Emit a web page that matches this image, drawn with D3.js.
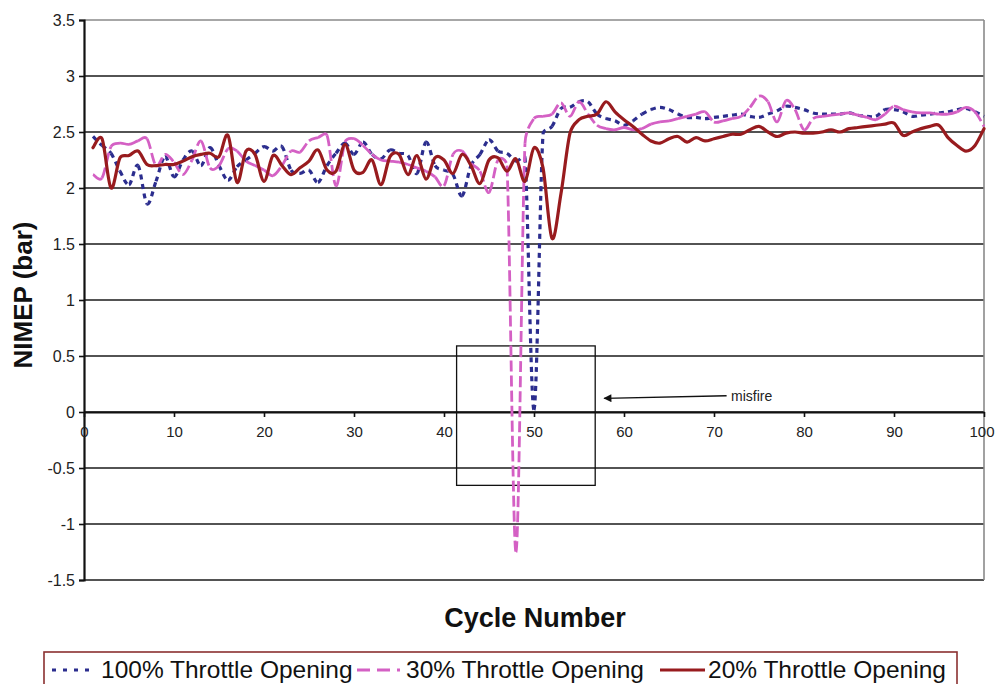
<!DOCTYPE html>
<html>
<head>
<meta charset="utf-8">
<script src="https://cdn.jsdelivr.net/npm/d3@7"></script>
<style>
  body { margin: 0; background: #fff; }
  svg { display: block; font-family: "Liberation Sans", Arial, Helvetica, sans-serif; }
</style>
</head>
<body>
<svg id="chart" width="995" height="684"></svg>
<script>
// Cycle numbers on the x axis
const cycles = d3.range(1, 101);

// NIMEP (bar) per cycle, one array per throttle opening
const throttle100 = [
  2.46, 2.38, 2.31, 2.15, 2.03, 2.20, 1.86, 2.06, 2.28, 2.10,
  2.25, 2.33, 2.20, 2.36, 2.20, 2.07, 2.19, 2.25, 2.31, 2.37,
  2.33, 2.37, 2.16, 2.13, 2.16, 2.05, 2.20, 2.31, 2.40, 2.30,
  2.41, 2.30, 2.26, 2.34, 2.31, 2.29, 2.13, 2.41, 2.20, 2.16,
  2.12, 1.93, 2.20, 2.30, 2.43, 2.33, 2.31, 2.24, 2.27, 0.02,
  2.48, 2.55, 2.71, 2.72, 2.77, 2.77, 2.66, 2.62, 2.60, 2.56,
  2.60, 2.66, 2.70, 2.72, 2.70, 2.66, 2.63, 2.63, 2.62, 2.63,
  2.64, 2.65, 2.66, 2.64, 2.63, 2.66, 2.69, 2.73, 2.72, 2.70,
  2.67, 2.66, 2.66, 2.66, 2.67, 2.65, 2.64, 2.64, 2.70, 2.70,
  2.68, 2.64, 2.65, 2.66, 2.67, 2.68, 2.70, 2.71, 2.68, 2.64
];
const throttle30 = [
  2.12, 2.09, 2.37, 2.40, 2.39, 2.42, 2.44, 2.20, 2.30, 2.23,
  2.12, 2.25, 2.42, 2.18, 2.20, 2.35, 2.33, 2.24, 2.20, 2.16,
  2.11, 2.20, 2.33, 2.32, 2.42, 2.45, 2.47, 2.02, 2.41, 2.44,
  2.38, 2.30, 2.25, 2.24, 2.23, 2.21, 2.18, 2.15, 2.10, 2.02,
  2.30, 2.33, 2.22, 2.15, 1.96, 2.25, 2.20, -1.25, 2.40, 2.62,
  2.64, 2.66, 2.76, 2.64, 2.77, 2.66, 2.56, 2.53, 2.52, 2.54,
  2.52, 2.53, 2.57, 2.59, 2.60, 2.62, 2.64, 2.66, 2.68, 2.59,
  2.60, 2.62, 2.64, 2.72, 2.82, 2.77, 2.59, 2.78, 2.70, 2.52,
  2.62, 2.64, 2.65, 2.66, 2.67, 2.65, 2.63, 2.61, 2.66, 2.73,
  2.70, 2.68, 2.67, 2.67, 2.66, 2.66, 2.68, 2.72, 2.68, 2.55
];
const throttle20 = [
  2.36, 2.44, 2.00, 2.27, 2.29, 2.33, 2.21, 2.20, 2.21, 2.21,
  2.24, 2.28, 2.30, 2.31, 2.28, 2.47, 2.05, 2.33, 2.30, 2.06,
  2.29, 2.20, 2.12, 2.18, 2.24, 2.34, 2.16, 2.15, 2.39, 2.16,
  2.14, 2.25, 2.03, 2.28, 2.30, 2.12, 2.29, 2.08, 2.27, 2.25,
  2.13, 2.30, 2.20, 2.04, 2.25, 2.27, 2.15, 2.26, 2.06, 2.36,
  2.18, 1.55, 1.95, 2.49, 2.61, 2.64, 2.66, 2.77, 2.68, 2.61,
  2.55, 2.48, 2.42, 2.40, 2.44, 2.46, 2.41, 2.45, 2.42, 2.44,
  2.46, 2.48, 2.48, 2.52, 2.55, 2.50, 2.46, 2.49, 2.50, 2.49,
  2.49, 2.50, 2.52, 2.50, 2.53, 2.54, 2.55, 2.56, 2.57, 2.58,
  2.47, 2.50, 2.53, 2.55, 2.56, 2.45, 2.38, 2.33, 2.38, 2.53
];

const seriesNames = ["100% Throttle Opening", "30% Throttle Opening", "20% Throttle Opening"];
const yTickValues = [-1.5, -1, -0.5, 0, 0.5, 1, 1.5, 2, 2.5, 3, 3.5];
const xTickValues = [0, 10, 20, 30, 40, 50, 60, 70, 80, 90, 100];

// Highlighted misfire region (cycle range, NIMEP range) and its callout
const misfireCycles = [41.4, 56.8];
const misfireNimep = [-0.655, 0.59];
const calloutText = "misfire";

// ---- layout ----
const plot = { left: 84, right: 984, top: 20, bottom: 580 };

const svg = d3.select("#chart");

const x = d3.scaleLinear().domain([0, 100]).range([plot.left, plot.right]);
const y = d3.scaleLinear().domain([-1.5, 3.5]).range([plot.bottom, plot.top]);

const styles = [
  { color: "#2B2D8E", width: 3.2, dash: "5,4.5" },
  { color: "#D460C4", width: 2.8, dash: "11,4" },
  { color: "#981B1E", width: 3.2, dash: null }
];
const seriesValues = [throttle100, throttle30, throttle20];

// Smoothed line: Catmull-Rom tangents, with each control arm limited to
// half of its own segment so short steps next to a spike do not overshoot.
function curveSmoothClamped(context) {
  return {
    areaStart() {}, areaEnd() {},
    lineStart() { this._pts = []; },
    point(px, py) { this._pts.push([+px, +py]); },
    lineEnd() {
      const p = this._pts, n = p.length;
      if (!n) return;
      context.moveTo(p[0][0], p[0][1]);
      for (let i = 0; i < n - 1; i++) {
        const p0 = p[Math.max(i - 1, 0)], p1 = p[i], p2 = p[i + 1], p3 = p[Math.min(i + 2, n - 1)];
        const cap = 0.5 * Math.hypot(p2[0] - p1[0], p2[1] - p1[1]);
        let a = [(p2[0] - p0[0]) / 6, (p2[1] - p0[1]) / 6];
        let b = [(p3[0] - p1[0]) / 6, (p3[1] - p1[1]) / 6];
        const ma = Math.hypot(a[0], a[1]), mb = Math.hypot(b[0], b[1]);
        if (ma > cap) a = [a[0] * cap / ma, a[1] * cap / ma];
        if (mb > cap) b = [b[0] * cap / mb, b[1] * cap / mb];
        context.bezierCurveTo(p1[0] + a[0], p1[1] + a[1], p2[0] - b[0], p2[1] - b[1], p2[0], p2[1]);
      }
    }
  };
}

const lineGen = d3.line()
  .x((d, i) => x(cycles[i]))
  .y(d => y(d))
  .curve(curveSmoothClamped);

// horizontal grid lines
svg.append("g")
  .selectAll("line")
  .data(yTickValues)
  .join("line")
  .attr("x1", plot.left).attr("x2", plot.right)
  .attr("y1", d => y(d)).attr("y2", d => y(d))
  .attr("stroke", d => d === 3.5 ? "#8a8a8a" : "#1a1a1a")
  .attr("stroke-width", 1.6);

// right border of the plot area
svg.append("line")
  .attr("x1", plot.right).attr("x2", plot.right)
  .attr("y1", plot.top).attr("y2", plot.bottom)
  .attr("stroke", "#8a8a8a").attr("stroke-width", 1.6);

// y axis
const yAxis = d3.axisLeft(y)
  .tickValues(yTickValues)
  .tickSize(5)
  .tickFormat(d => String(d));
const gy = svg.append("g")
  .attr("transform", `translate(${plot.left},0)`)
  .call(yAxis);
gy.select(".domain").attr("stroke", "#111").attr("stroke-width", 2.2);
gy.selectAll(".tick line").attr("stroke", "#111").attr("stroke-width", 1.6);
gy.selectAll(".tick text")
  .attr("x", -9)
  .attr("fill", "#222")
  .style("font-size", "16px")
  .style("font-family", "'Liberation Sans', Arial, sans-serif");

// x axis along NIMEP = 0
const xAxis = d3.axisBottom(x)
  .tickValues(xTickValues)
  .tickSize(5)
  .tickSizeOuter(0)
  .tickFormat(d => String(d));
const gx = svg.append("g")
  .attr("transform", `translate(0,${y(0)})`)
  .call(xAxis);
gx.select(".domain").attr("stroke", "#111").attr("stroke-width", 2);
gx.selectAll(".tick line").attr("stroke", "#111").attr("stroke-width", 1.6);
gx.selectAll(".tick text")
  .attr("y", 14)
  .attr("fill", "#222")
  .style("font-size", "15px")
  .style("font-family", "'Liberation Sans', Arial, sans-serif");
// the last label sits against the right edge of the page
gx.selectAll(".tick text")
  .filter(d => d === 100)
  .attr("text-anchor", "end")
  .attr("x", 994 - x(100));

// misfire box
svg.append("rect")
  .attr("x", x(misfireCycles[0]))
  .attr("y", y(misfireNimep[1]))
  .attr("width", x(misfireCycles[1]) - x(misfireCycles[0]))
  .attr("height", y(misfireNimep[0]) - y(misfireNimep[1]))
  .attr("fill", "none")
  .attr("stroke", "#111")
  .attr("stroke-width", 1.3);

// callout arrow
svg.append("defs").append("marker")
  .attr("id", "arrowhead")
  .attr("viewBox", "0 0 10 10")
  .attr("refX", 9).attr("refY", 5)
  .attr("markerWidth", 11).attr("markerHeight", 8)
  .attr("markerUnits", "userSpaceOnUse")
  .attr("orient", "auto")
  .append("path")
  .attr("d", "M0,0 L10,5 L0,10 Z")
  .attr("fill", "#111");

svg.append("line")
  .attr("x1", x(71.4)).attr("y1", y(0.145))
  .attr("x2", x(57.8)).attr("y2", y(0.122))
  .attr("stroke", "#111")
  .attr("stroke-width", 1.3)
  .attr("marker-end", "url(#arrowhead)");

svg.append("text")
  .attr("x", x(71.9))
  .attr("y", y(0.1))
  .attr("fill", "#222")
  .style("font-size", "14px")
  .text(calloutText);

// Dashed series: every data interval is its own path so the dash
// pattern restarts at each point.
function segmentPaths(values) {
  const segs = [];
  let cur = null;
  const ctx = {
    moveTo(px, py) { cur = [px, py]; },
    lineTo(px, py) { segs.push(`M${cur[0]},${cur[1]}L${px},${py}`); cur = [px, py]; },
    bezierCurveTo(a, b, c, d, px, py) {
      segs.push(`M${cur[0]},${cur[1]}C${a},${b},${c},${d},${px},${py}`);
      cur = [px, py];
    },
    closePath() {}
  };
  lineGen.context(ctx)(values);
  lineGen.context(null);
  return segs;
}

const lines = svg.append("g").attr("fill", "none");
seriesValues.forEach((vals, k) => {
  const st = styles[k];
  const g = lines.append("g");
  if (st.dash === null) {
    g.append("path")
      .attr("d", lineGen(vals))
      .attr("stroke", st.color)
      .attr("stroke-width", st.width)
      .attr("stroke-linejoin", "round")
      .attr("stroke-linecap", "round");
  } else {
    g.selectAll("path")
      .data(segmentPaths(vals))
      .join("path")
      .attr("d", d => d)
      .attr("stroke", st.color)
      .attr("stroke-width", st.width)
      .attr("stroke-dasharray", st.dash);
  }
});

// axis titles
svg.append("text")
  .attr("transform", `translate(32,295) rotate(-90)`)
  .attr("text-anchor", "middle")
  .attr("fill", "#111")
  .style("font-size", "26px")
  .style("font-weight", "bold")
  .text("NIMEP (bar)");

svg.append("text")
  .attr("x", 535)
  .attr("y", 627)
  .attr("text-anchor", "middle")
  .attr("fill", "#111")
  .style("font-size", "27px")
  .style("font-weight", "bold")
  .text("Cycle Number");

// legend
const legend = svg.append("g");
legend.append("rect")
  .attr("x", 44).attr("y", 652)
  .attr("width", 913).attr("height", 50)
  .attr("fill", "#fff")
  .attr("stroke", "#8B3030")
  .attr("stroke-width", 1.6);

const legendItems = [
  { sx: 52, sw: 40, tx: 101 },
  { sx: 357, sw: 43, tx: 406 },
  { sx: 660, sw: 45, tx: 708 }
];
legendItems.forEach((it, k) => {
  const st = styles[k];
  legend.append("line")
    .attr("x1", it.sx).attr("x2", it.sx + it.sw)
    .attr("y1", 670).attr("y2", 670)
    .attr("stroke", st.color)
    .attr("stroke-width", st.width)
    .attr("stroke-dasharray", st.dash === null ? null : (k === 0 ? "4,7" : "13,7"));
  legend.append("text")
    .attr("x", it.tx).attr("y", 678)
    .attr("fill", "#111")
    .style("font-size", "24.5px")
    .text(seriesNames[k]);
});
</script>
</body>
</html>
